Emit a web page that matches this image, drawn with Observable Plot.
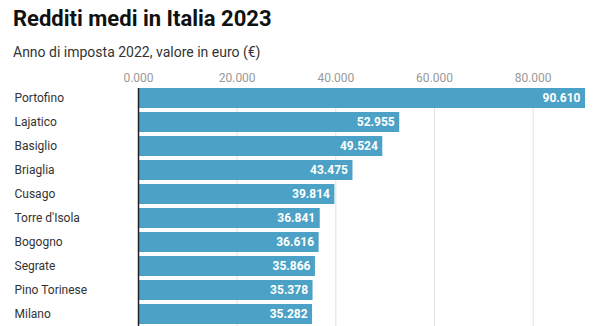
<!DOCTYPE html>
<html><head><meta charset="utf-8">
<script src="https://cdn.jsdelivr.net/npm/d3@7"></script>
<script src="https://cdn.jsdelivr.net/npm/@observablehq/plot@0.6"></script>
<style>
body{margin:0;background:#fff;font-family:Roboto,sans-serif;}
#wrap{width:606px;}
h1{margin:0;padding:5px 0 0 13px;font-size:22px;font-weight:700;color:#111;line-height:27px;}
.sub{padding:11px 0 0 13px;font-size:14px;color:#333;line-height:18px;}
#chart svg{display:block;}
</style></head><body>
<div id="wrap">
<h1>Redditi medi in Italia 2023</h1>
<div class="sub">Anno di imposta 2022, valore in euro (€)</div>
<div id="chart"></div>
</div>
<script>
const cities = ["Portofino","Lajatico","Basiglio","Briaglia","Cusago","Torre d'Isola","Bogogno","Segrate","Pino Torinese","Milano"];
const values = [90610,52955,49524,43475,39814,36841,36616,35866,35378,35282];
const tickValues = [0,20000,40000,60000,80000];
const tickLabels = ["0.000","20.000","40.000","60.000","80.000"];

const data = cities.map((c,i)=>({city:c,value:values[i]}));
const fmt = d3.formatLocale({thousands:".",decimal:",",grouping:[3],currency:["","€"]}).format(",");

const chart = Plot.plot({
  width:606, height:265,
  marginLeft:138, marginRight:21, marginTop:27, marginBottom:0,
  style:{fontFamily:"Roboto, sans-serif", fontSize:"12px", background:"#fff"},
  x:{domain:[0,90610], axis:null, label:null},
  y:{domain:cities, axis:null, label:null, range:[27,263], paddingInner:0.1667, paddingOuter:0},
  marks:[
    Plot.gridX(tickValues.slice(1), {stroke:"#e2e2e2", strokeOpacity:1}),
    Plot.axisX(tickValues, {anchor:"top", label:null, tickSize:0, tickPadding:7, fill:"#999", fontSize:12, tickFormat:(d)=>tickLabels[tickValues.indexOf(d)]}),
    Plot.barX(data, {x:"value", y:"city", fill:"#4ba2c6"}),
    Plot.axisY({label:null, tickSize:0, textAnchor:"start", dx:-115, fill:"#333", fontSize:12}),
    Plot.ruleX([0], {stroke:"#222", strokeWidth:1.5}),
    Plot.text(data, {x:"value", y:"city", text:(d)=>fmt(d.value), textAnchor:"end", dx:-5, fill:"#fff", fontWeight:"bold", fontSize:12})
  ]
});
document.getElementById("chart").appendChild(chart);
</script>
</body></html>
